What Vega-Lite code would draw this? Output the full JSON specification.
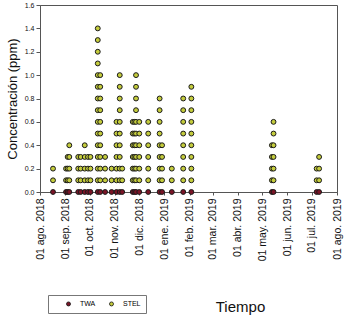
{
  "$schema": "https://vega.github.io/schema/vega-lite/v6.json",
  "width": 297,
  "height": 187,
  "autosize": "none",
  "padding": {"left": 40, "top": 5, "right": 9, "bottom": 123},
  "config": {
    "font": "Liberation Sans",
    "view": {"stroke": "#555", "strokeWidth": 1},
    "axis": {"grid": false, "domainColor": "#555", "tickColor": "#555", "labelColor": "#111", "titleColor": "#111", "titleFontWeight": "normal"}
  },
  "data": {"values": [
    {"fecha": "2018-08-17", "serie": "STEL", "valor": 0.1}, {"fecha": "2018-08-17", "serie": "STEL", "valor": 0.2},
    {"fecha": "2018-09-02", "serie": "STEL", "valor": 0.1}, {"fecha": "2018-09-02", "serie": "STEL", "valor": 0.2},
    {"fecha": "2018-09-04", "serie": "STEL", "valor": 0.1}, {"fecha": "2018-09-04", "serie": "STEL", "valor": 0.2}, {"fecha": "2018-09-04", "serie": "STEL", "valor": 0.3},
    {"fecha": "2018-09-06", "serie": "STEL", "valor": 0.1}, {"fecha": "2018-09-06", "serie": "STEL", "valor": 0.2}, {"fecha": "2018-09-06", "serie": "STEL", "valor": 0.3}, {"fecha": "2018-09-06", "serie": "STEL", "valor": 0.4},
    {"fecha": "2018-09-17", "serie": "STEL", "valor": 0.1}, {"fecha": "2018-09-17", "serie": "STEL", "valor": 0.2}, {"fecha": "2018-09-17", "serie": "STEL", "valor": 0.3},
    {"fecha": "2018-09-20", "serie": "STEL", "valor": 0.1}, {"fecha": "2018-09-20", "serie": "STEL", "valor": 0.2}, {"fecha": "2018-09-20", "serie": "STEL", "valor": 0.3},
    {"fecha": "2018-09-25", "serie": "STEL", "valor": 0.1}, {"fecha": "2018-09-25", "serie": "STEL", "valor": 0.2}, {"fecha": "2018-09-25", "serie": "STEL", "valor": 0.3}, {"fecha": "2018-09-25", "serie": "STEL", "valor": 0.4},
    {"fecha": "2018-09-29", "serie": "STEL", "valor": 0.1}, {"fecha": "2018-09-29", "serie": "STEL", "valor": 0.2}, {"fecha": "2018-09-29", "serie": "STEL", "valor": 0.3},
    {"fecha": "2018-10-02", "serie": "STEL", "valor": 0.1}, {"fecha": "2018-10-02", "serie": "STEL", "valor": 0.2}, {"fecha": "2018-10-02", "serie": "STEL", "valor": 0.3},
    {"fecha": "2018-10-11", "serie": "STEL", "valor": 0.1}, {"fecha": "2018-10-11", "serie": "STEL", "valor": 0.2}, {"fecha": "2018-10-11", "serie": "STEL", "valor": 0.3}, {"fecha": "2018-10-11", "serie": "STEL", "valor": 0.4}, {"fecha": "2018-10-11", "serie": "STEL", "valor": 0.5}, {"fecha": "2018-10-11", "serie": "STEL", "valor": 0.6}, {"fecha": "2018-10-11", "serie": "STEL", "valor": 0.7}, {"fecha": "2018-10-11", "serie": "STEL", "valor": 0.8}, {"fecha": "2018-10-11", "serie": "STEL", "valor": 0.9}, {"fecha": "2018-10-11", "serie": "STEL", "valor": 1.0}, {"fecha": "2018-10-11", "serie": "STEL", "valor": 1.1}, {"fecha": "2018-10-11", "serie": "STEL", "valor": 1.2}, {"fecha": "2018-10-11", "serie": "STEL", "valor": 1.3}, {"fecha": "2018-10-11", "serie": "STEL", "valor": 1.4},
    {"fecha": "2018-10-14", "serie": "STEL", "valor": 0.1}, {"fecha": "2018-10-14", "serie": "STEL", "valor": 0.2}, {"fecha": "2018-10-14", "serie": "STEL", "valor": 0.3}, {"fecha": "2018-10-14", "serie": "STEL", "valor": 0.4}, {"fecha": "2018-10-14", "serie": "STEL", "valor": 0.5}, {"fecha": "2018-10-14", "serie": "STEL", "valor": 0.6}, {"fecha": "2018-10-14", "serie": "STEL", "valor": 0.7}, {"fecha": "2018-10-14", "serie": "STEL", "valor": 0.8}, {"fecha": "2018-10-14", "serie": "STEL", "valor": 0.9}, {"fecha": "2018-10-14", "serie": "STEL", "valor": 1.0},
    {"fecha": "2018-10-20", "serie": "STEL", "valor": 0.1}, {"fecha": "2018-10-20", "serie": "STEL", "valor": 0.2}, {"fecha": "2018-10-20", "serie": "STEL", "valor": 0.3},
    {"fecha": "2018-10-28", "serie": "STEL", "valor": 0.1}, {"fecha": "2018-10-28", "serie": "STEL", "valor": 0.2},
    {"fecha": "2018-11-03", "serie": "STEL", "valor": 0.1}, {"fecha": "2018-11-03", "serie": "STEL", "valor": 0.2}, {"fecha": "2018-11-03", "serie": "STEL", "valor": 0.3}, {"fecha": "2018-11-03", "serie": "STEL", "valor": 0.4}, {"fecha": "2018-11-03", "serie": "STEL", "valor": 0.5}, {"fecha": "2018-11-03", "serie": "STEL", "valor": 0.6},
    {"fecha": "2018-11-07", "serie": "STEL", "valor": 0.1}, {"fecha": "2018-11-07", "serie": "STEL", "valor": 0.2}, {"fecha": "2018-11-07", "serie": "STEL", "valor": 0.3}, {"fecha": "2018-11-07", "serie": "STEL", "valor": 0.4}, {"fecha": "2018-11-07", "serie": "STEL", "valor": 0.5}, {"fecha": "2018-11-07", "serie": "STEL", "valor": 0.6}, {"fecha": "2018-11-07", "serie": "STEL", "valor": 0.7}, {"fecha": "2018-11-07", "serie": "STEL", "valor": 0.8}, {"fecha": "2018-11-07", "serie": "STEL", "valor": 0.9}, {"fecha": "2018-11-07", "serie": "STEL", "valor": 1.0},
    {"fecha": "2018-11-10", "serie": "STEL", "valor": 0.1}, {"fecha": "2018-11-10", "serie": "STEL", "valor": 0.2},
    {"fecha": "2018-11-23", "serie": "STEL", "valor": 0.1}, {"fecha": "2018-11-23", "serie": "STEL", "valor": 0.2}, {"fecha": "2018-11-23", "serie": "STEL", "valor": 0.3}, {"fecha": "2018-11-23", "serie": "STEL", "valor": 0.4}, {"fecha": "2018-11-23", "serie": "STEL", "valor": 0.5}, {"fecha": "2018-11-23", "serie": "STEL", "valor": 0.6},
    {"fecha": "2018-11-25", "serie": "STEL", "valor": 0.1}, {"fecha": "2018-11-25", "serie": "STEL", "valor": 0.2}, {"fecha": "2018-11-25", "serie": "STEL", "valor": 0.3}, {"fecha": "2018-11-25", "serie": "STEL", "valor": 0.4}, {"fecha": "2018-11-25", "serie": "STEL", "valor": 0.5}, {"fecha": "2018-11-25", "serie": "STEL", "valor": 0.6},
    {"fecha": "2018-11-27", "serie": "STEL", "valor": 0.1}, {"fecha": "2018-11-27", "serie": "STEL", "valor": 0.2}, {"fecha": "2018-11-27", "serie": "STEL", "valor": 0.3}, {"fecha": "2018-11-27", "serie": "STEL", "valor": 0.4}, {"fecha": "2018-11-27", "serie": "STEL", "valor": 0.5}, {"fecha": "2018-11-27", "serie": "STEL", "valor": 0.6}, {"fecha": "2018-11-27", "serie": "STEL", "valor": 0.7}, {"fecha": "2018-11-27", "serie": "STEL", "valor": 0.8}, {"fecha": "2018-11-27", "serie": "STEL", "valor": 0.9}, {"fecha": "2018-11-27", "serie": "STEL", "valor": 1.0},
    {"fecha": "2018-12-01", "serie": "STEL", "valor": 0.1}, {"fecha": "2018-12-01", "serie": "STEL", "valor": 0.2}, {"fecha": "2018-12-01", "serie": "STEL", "valor": 0.3}, {"fecha": "2018-12-01", "serie": "STEL", "valor": 0.4}, {"fecha": "2018-12-01", "serie": "STEL", "valor": 0.5}, {"fecha": "2018-12-01", "serie": "STEL", "valor": 0.6},
    {"fecha": "2018-12-12", "serie": "STEL", "valor": 0.1}, {"fecha": "2018-12-12", "serie": "STEL", "valor": 0.2}, {"fecha": "2018-12-12", "serie": "STEL", "valor": 0.3}, {"fecha": "2018-12-12", "serie": "STEL", "valor": 0.4}, {"fecha": "2018-12-12", "serie": "STEL", "valor": 0.5}, {"fecha": "2018-12-12", "serie": "STEL", "valor": 0.6},
    {"fecha": "2018-12-26", "serie": "STEL", "valor": 0.1}, {"fecha": "2018-12-26", "serie": "STEL", "valor": 0.2}, {"fecha": "2018-12-26", "serie": "STEL", "valor": 0.3}, {"fecha": "2018-12-26", "serie": "STEL", "valor": 0.4}, {"fecha": "2018-12-26", "serie": "STEL", "valor": 0.5}, {"fecha": "2018-12-26", "serie": "STEL", "valor": 0.6}, {"fecha": "2018-12-26", "serie": "STEL", "valor": 0.7}, {"fecha": "2018-12-26", "serie": "STEL", "valor": 0.8},
    {"fecha": "2018-12-29", "serie": "STEL", "valor": 0.1}, {"fecha": "2018-12-29", "serie": "STEL", "valor": 0.2}, {"fecha": "2018-12-29", "serie": "STEL", "valor": 0.3}, {"fecha": "2018-12-29", "serie": "STEL", "valor": 0.4},
    {"fecha": "2019-01-10", "serie": "STEL", "valor": 0.1}, {"fecha": "2019-01-10", "serie": "STEL", "valor": 0.2},
    {"fecha": "2019-01-24", "serie": "STEL", "valor": 0.1}, {"fecha": "2019-01-24", "serie": "STEL", "valor": 0.2}, {"fecha": "2019-01-24", "serie": "STEL", "valor": 0.3}, {"fecha": "2019-01-24", "serie": "STEL", "valor": 0.4}, {"fecha": "2019-01-24", "serie": "STEL", "valor": 0.5}, {"fecha": "2019-01-24", "serie": "STEL", "valor": 0.6}, {"fecha": "2019-01-24", "serie": "STEL", "valor": 0.7}, {"fecha": "2019-01-24", "serie": "STEL", "valor": 0.8},
    {"fecha": "2019-02-03", "serie": "STEL", "valor": 0.1}, {"fecha": "2019-02-03", "serie": "STEL", "valor": 0.2}, {"fecha": "2019-02-03", "serie": "STEL", "valor": 0.3}, {"fecha": "2019-02-03", "serie": "STEL", "valor": 0.4}, {"fecha": "2019-02-03", "serie": "STEL", "valor": 0.5}, {"fecha": "2019-02-03", "serie": "STEL", "valor": 0.6}, {"fecha": "2019-02-03", "serie": "STEL", "valor": 0.7}, {"fecha": "2019-02-03", "serie": "STEL", "valor": 0.8}, {"fecha": "2019-02-03", "serie": "STEL", "valor": 0.9},
    {"fecha": "2019-05-13", "serie": "STEL", "valor": 0.1}, {"fecha": "2019-05-13", "serie": "STEL", "valor": 0.2}, {"fecha": "2019-05-13", "serie": "STEL", "valor": 0.3}, {"fecha": "2019-05-13", "serie": "STEL", "valor": 0.4},
    {"fecha": "2019-05-15", "serie": "STEL", "valor": 0.1}, {"fecha": "2019-05-15", "serie": "STEL", "valor": 0.2}, {"fecha": "2019-05-15", "serie": "STEL", "valor": 0.3}, {"fecha": "2019-05-15", "serie": "STEL", "valor": 0.4}, {"fecha": "2019-05-15", "serie": "STEL", "valor": 0.5}, {"fecha": "2019-05-15", "serie": "STEL", "valor": 0.6},
    {"fecha": "2019-07-07", "serie": "STEL", "valor": 0.1}, {"fecha": "2019-07-07", "serie": "STEL", "valor": 0.2},
    {"fecha": "2019-07-10", "serie": "STEL", "valor": 0.1}, {"fecha": "2019-07-10", "serie": "STEL", "valor": 0.2}, {"fecha": "2019-07-10", "serie": "STEL", "valor": 0.3},
    {"fecha": "2018-08-17", "serie": "TWA", "valor": 0}, {"fecha": "2018-09-02", "serie": "TWA", "valor": 0}, {"fecha": "2018-09-04", "serie": "TWA", "valor": 0}, {"fecha": "2018-09-06", "serie": "TWA", "valor": 0},
    {"fecha": "2018-09-17", "serie": "TWA", "valor": 0}, {"fecha": "2018-09-20", "serie": "TWA", "valor": 0}, {"fecha": "2018-09-25", "serie": "TWA", "valor": 0}, {"fecha": "2018-09-29", "serie": "TWA", "valor": 0},
    {"fecha": "2018-10-02", "serie": "TWA", "valor": 0}, {"fecha": "2018-10-11", "serie": "TWA", "valor": 0}, {"fecha": "2018-10-14", "serie": "TWA", "valor": 0}, {"fecha": "2018-10-20", "serie": "TWA", "valor": 0},
    {"fecha": "2018-10-28", "serie": "TWA", "valor": 0}, {"fecha": "2018-11-03", "serie": "TWA", "valor": 0}, {"fecha": "2018-11-07", "serie": "TWA", "valor": 0}, {"fecha": "2018-11-10", "serie": "TWA", "valor": 0},
    {"fecha": "2018-11-23", "serie": "TWA", "valor": 0}, {"fecha": "2018-11-25", "serie": "TWA", "valor": 0}, {"fecha": "2018-11-27", "serie": "TWA", "valor": 0}, {"fecha": "2018-12-01", "serie": "TWA", "valor": 0},
    {"fecha": "2018-12-12", "serie": "TWA", "valor": 0}, {"fecha": "2018-12-26", "serie": "TWA", "valor": 0}, {"fecha": "2018-12-29", "serie": "TWA", "valor": 0}, {"fecha": "2019-01-10", "serie": "TWA", "valor": 0},
    {"fecha": "2019-01-24", "serie": "TWA", "valor": 0}, {"fecha": "2019-02-03", "serie": "TWA", "valor": 0}, {"fecha": "2019-05-13", "serie": "TWA", "valor": 0}, {"fecha": "2019-05-15", "serie": "TWA", "valor": 0},
    {"fecha": "2019-07-07", "serie": "TWA", "valor": 0}, {"fecha": "2019-07-10", "serie": "TWA", "valor": 0}
  ]},
  "mark": {"type": "circle", "size": 24, "opacity": 1, "stroke": "#1a1a1a", "strokeWidth": 1, "clip": false},
  "encoding": {
    "x": {
      "field": "fecha", "type": "temporal",
      "scale": {"type": "utc", "domain": [{"year": 2018, "month": 8, "date": 1, "utc": true}, {"year": 2019, "month": 8, "date": 1, "utc": true}]},
      "axis": {
        "values": [
          {"year": 2018, "month": 8, "date": 1, "utc": true}, {"year": 2018, "month": 9, "date": 1, "utc": true}, {"year": 2018, "month": 10, "date": 1, "utc": true},
          {"year": 2018, "month": 11, "date": 1, "utc": true}, {"year": 2018, "month": 12, "date": 1, "utc": true}, {"year": 2019, "month": 1, "date": 1, "utc": true},
          {"year": 2019, "month": 2, "date": 1, "utc": true}, {"year": 2019, "month": 3, "date": 1, "utc": true}, {"year": 2019, "month": 4, "date": 1, "utc": true},
          {"year": 2019, "month": 5, "date": 1, "utc": true}, {"year": 2019, "month": 6, "date": 1, "utc": true}, {"year": 2019, "month": 7, "date": 1, "utc": true},
          {"year": 2019, "month": 8, "date": 1, "utc": true}
        ],
        "labelExpr": "'01 ' + ['ene','feb','mar','abr','may','jun','jul','ago','sep','oct','nov','dic'][utcmonth(datum.value)] + '. ' + utcyear(datum.value)",
        "labelAngle": 270, "labelFontSize": 10.5, "labelPadding": 3, "tickSize": 3, "labelOverlap": false, "labelBound": false,
        "title": "Tiempo", "titleFontSize": 15, "titleAngle": 0, "titleAlign": "center", "titleBaseline": "middle", "titleX": 200, "titleY": 114
      }
    },
    "y": {
      "field": "valor", "type": "quantitative",
      "scale": {"domain": [0, 1.6], "nice": false},
      "axis": {"values": [0, 0.2, 0.4, 0.6, 0.8, 1.0, 1.2, 1.4, 1.6], "format": ".1f", "labelFontSize": 7, "labelPadding": 2, "tickSize": 4, "title": "Concentración (ppm)", "titleFontSize": 13, "titlePadding": 5}
    },
    "fill": {
      "field": "serie", "type": "nominal",
      "scale": {"domain": ["TWA", "STEL"], "range": ["#7a1426", "#c4cc3c"]},
      "legend": {"title": null, "orient": "none", "legendX": 8, "legendY": 290, "direction": "horizontal", "strokeColor": "#777", "padding": 5, "symbolOffset": 12, "columnPadding": 0, "labelFontSize": 7, "labelOffset": 8, "symbolSize": 16, "symbolType": "circle", "symbolStrokeColor": "#111", "symbolStrokeWidth": 0.8}
    }
  }
}
